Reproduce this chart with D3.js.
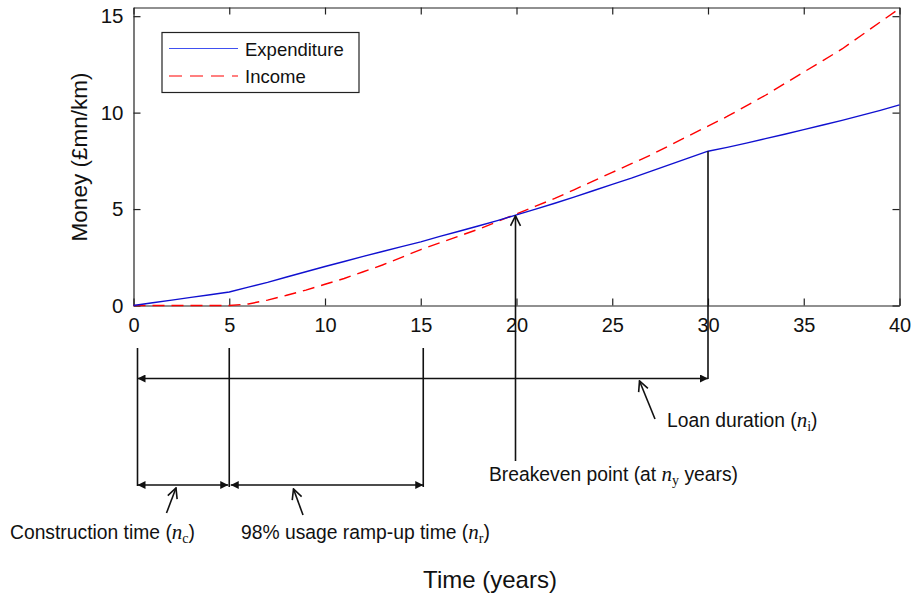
<!DOCTYPE html>
<html>
<head>
<meta charset="utf-8">
<script src="https://cdn.jsdelivr.net/npm/d3@7"></script>
<style>
  body { margin: 0; background: #fff; }
  text { font-family: "Liberation Sans", Arial, sans-serif; fill: #111; }
  .m { font-family: "Liberation Serif", "DejaVu Serif", serif; }
</style>
</head>
<body>
<svg id="chart" width="913" height="601"></svg>
<script>
// years on the x axis
let years = d3.range(0, 41);

// cumulative expenditure (£mn/km)
let expenditure = [0, 0.14, 0.28, 0.42, 0.56, 0.7, 0.95, 1.2, 1.48, 1.75, 2.02,
  2.28, 2.55, 2.8, 3.05, 3.3, 3.58, 3.85, 4.12, 4.4, 4.7,
  5.0, 5.3, 5.62, 5.95, 6.28, 6.6, 6.95, 7.3, 7.65, 8.0,
  8.2, 8.42, 8.65, 8.88, 9.12, 9.36, 9.6, 9.86, 10.12, 10.4];

// cumulative income (£mn/km)
let income = [0, 0, 0, 0, 0, 0, 0.08, 0.28, 0.53, 0.8, 1.1,
  1.4, 1.75, 2.1, 2.5, 2.9, 3.25, 3.6, 3.95, 4.35, 4.75,
  5.15, 5.55, 6.0, 6.45, 6.9, 7.35, 7.8, 8.3, 8.8, 9.3,
  9.8, 10.35, 10.9, 11.5, 12.1, 12.7, 13.3, 14.0, 14.7, 15.4];

let xTicks = [0, 5, 10, 15, 20, 25, 30, 35, 40];
let yTicks = [0, 5, 10, 15];

// key years used in the annotation
let nc = 5, nr = 15, ny = 20, nl = 30;

let svg = d3.select("#chart");
let mLeft = 133.5, mRight = 899.5, mTop = 7.5, mBottom = 305.5;

let xScale = d3.scaleLinear().domain([0, 40]).range([mLeft, mRight]);
let yScale = d3.scaleLinear().domain([0, 15.45]).range([mBottom, mTop]);

// axes with inward ticks on all four sides
svg.append("g")
  .attr("transform", "translate(0," + mBottom + ")")
  .call(d3.axisBottom(xScale).tickValues(xTicks).tickSizeInner(-7).tickSizeOuter(0).tickPadding(12))
  .call(g => g.selectAll("text").attr("font-size", 20).attr("fill", "#111"));
svg.append("g")
  .attr("transform", "translate(0," + mTop + ")")
  .call(d3.axisTop(xScale).tickValues(xTicks).tickSizeInner(-7).tickSizeOuter(0).tickFormat(""));
svg.append("g")
  .attr("transform", "translate(" + mLeft + ",0)")
  .call(d3.axisLeft(yScale).tickValues(yTicks).tickSizeInner(-7).tickSizeOuter(0).tickPadding(10))
  .call(g => g.selectAll("text").attr("font-size", 20.5).attr("fill", "#111"));
svg.append("g")
  .attr("transform", "translate(" + mRight + ",0)")
  .call(d3.axisRight(yScale).tickValues(yTicks).tickSizeInner(-7).tickSizeOuter(0).tickFormat(""));
svg.selectAll(".domain").attr("stroke", "#222").attr("stroke-width", 1.2);
svg.selectAll(".tick line").attr("stroke", "#222").attr("stroke-width", 1.2);

// curves
let line = d3.line().x((d, i) => xScale(years[i])).y(d => yScale(d));
svg.append("path").datum(income)
  .attr("d", line).attr("fill", "none")
  .attr("stroke", "#ff0000").attr("stroke-width", 1.4).attr("stroke-dasharray", "12,7");
svg.append("path").datum(expenditure)
  .attr("d", line).attr("fill", "none")
  .attr("stroke", "#1010d0").attr("stroke-width", 1.4);

// legend
let lg = svg.append("g");
lg.append("rect").attr("x", 162).attr("y", 32.5).attr("width", 197).attr("height", 60)
  .attr("fill", "#fff").attr("stroke", "#222").attr("stroke-width", 1.2);
lg.append("line").attr("x1", 169).attr("x2", 238).attr("y1", 48.5).attr("y2", 48.5)
  .attr("stroke", "#4050f0").attr("stroke-width", 1.2);
lg.append("line").attr("x1", 169).attr("x2", 238).attr("y1", 76).attr("y2", 76)
  .attr("stroke", "#ff0000").attr("stroke-width", 1.2).attr("stroke-dasharray", "13,8");
lg.append("text").attr("x", 245).attr("y", 56).attr("font-size", 18.5).text("Expenditure");
lg.append("text").attr("x", 245).attr("y", 83).attr("font-size", 18.5).text("Income");

// axis titles
svg.append("text").attr("transform", "translate(87,157) rotate(-90)")
  .attr("text-anchor", "middle").attr("font-size", 22.5).text("Money (£mn/km)");
svg.append("text").attr("x", 490).attr("y", 588)
  .attr("text-anchor", "middle").attr("font-size", 24).text("Time (years)");

// annotation helpers
let defs = svg.append("defs");
defs.append("marker").attr("id", "tri").attr("viewBox", "0 0 10 10")
  .attr("refX", 10).attr("refY", 5).attr("markerWidth", 10).attr("markerHeight", 8)
  .attr("markerUnits", "userSpaceOnUse").attr("orient", "auto-start-reverse")
  .append("path").attr("d", "M0,0L10,5L0,10Z").attr("fill", "#111");
defs.append("marker").attr("id", "vee").attr("viewBox", "0 0 12 12")
  .attr("refX", 11).attr("refY", 6).attr("markerWidth", 12).attr("markerHeight", 12)
  .attr("markerUnits", "userSpaceOnUse").attr("orient", "auto")
  .append("path").attr("d", "M1,1L11,6L1,11").attr("fill", "none")
  .attr("stroke", "#111").attr("stroke-width", 1.6);

let ann = svg.append("g").attr("stroke", "#111").attr("stroke-width", 1.6);
let x0 = xScale(0) + 4, x5 = xScale(nc), x15 = xScale(nr) + 2.5, x20 = xScale(ny) - 1, x30 = xScale(nl);
function seg(x1, y1, x2, y2) {
  return ann.append("line").attr("x1", x1).attr("y1", y1).attr("x2", x2).attr("y2", y2);
}
// vertical guides
seg(x0, 348, x0, 486);
seg(x5, 348, x5, 487);
seg(x15, 348, x15, 487);
seg(x30, yScale(expenditure[nl]), x30, 379);
seg(x20, 461, x20, yScale(expenditure[ny]) + 1).attr("marker-end", "url(#vee)");
// dimension arrows
seg(x0, 378.5, x30, 378.5).attr("marker-start", "url(#tri)").attr("marker-end", "url(#tri)");
seg(x0, 485, x5 - 1, 485).attr("marker-start", "url(#tri)").attr("marker-end", "url(#tri)");
seg(x5 + 1.5, 485, x15, 485).attr("marker-start", "url(#tri)").attr("marker-end", "url(#tri)");
// pointers
seg(166.5, 513, 176, 488).attr("marker-end", "url(#vee)");
seg(303, 515, 293.5, 489).attr("marker-end", "url(#vee)");
seg(655, 419, 639.5, 381).attr("marker-end", "url(#vee)");

// annotation labels
function label(x, y, pre, sub, post) {
  let t = svg.append("text").attr("x", x).attr("y", y).attr("font-size", 19.3);
  t.append("tspan").text(pre);
  t.append("tspan").attr("class", "m").attr("font-style", "italic").attr("font-size", 21).text("n");
  t.append("tspan").attr("class", "m").attr("font-size", 14).attr("dy", 4).text(sub);
  t.append("tspan").attr("dy", -4).text(post);
}
label(10, 539, "Construction time (", "c", ")");
label(241, 539, "98% usage ramp-up time (", "r", ")");
label(489, 481, "Breakeven point (at ", "y", " years)");
label(667, 427, "Loan duration (", "i", ")");
</script>
</body>
</html>
